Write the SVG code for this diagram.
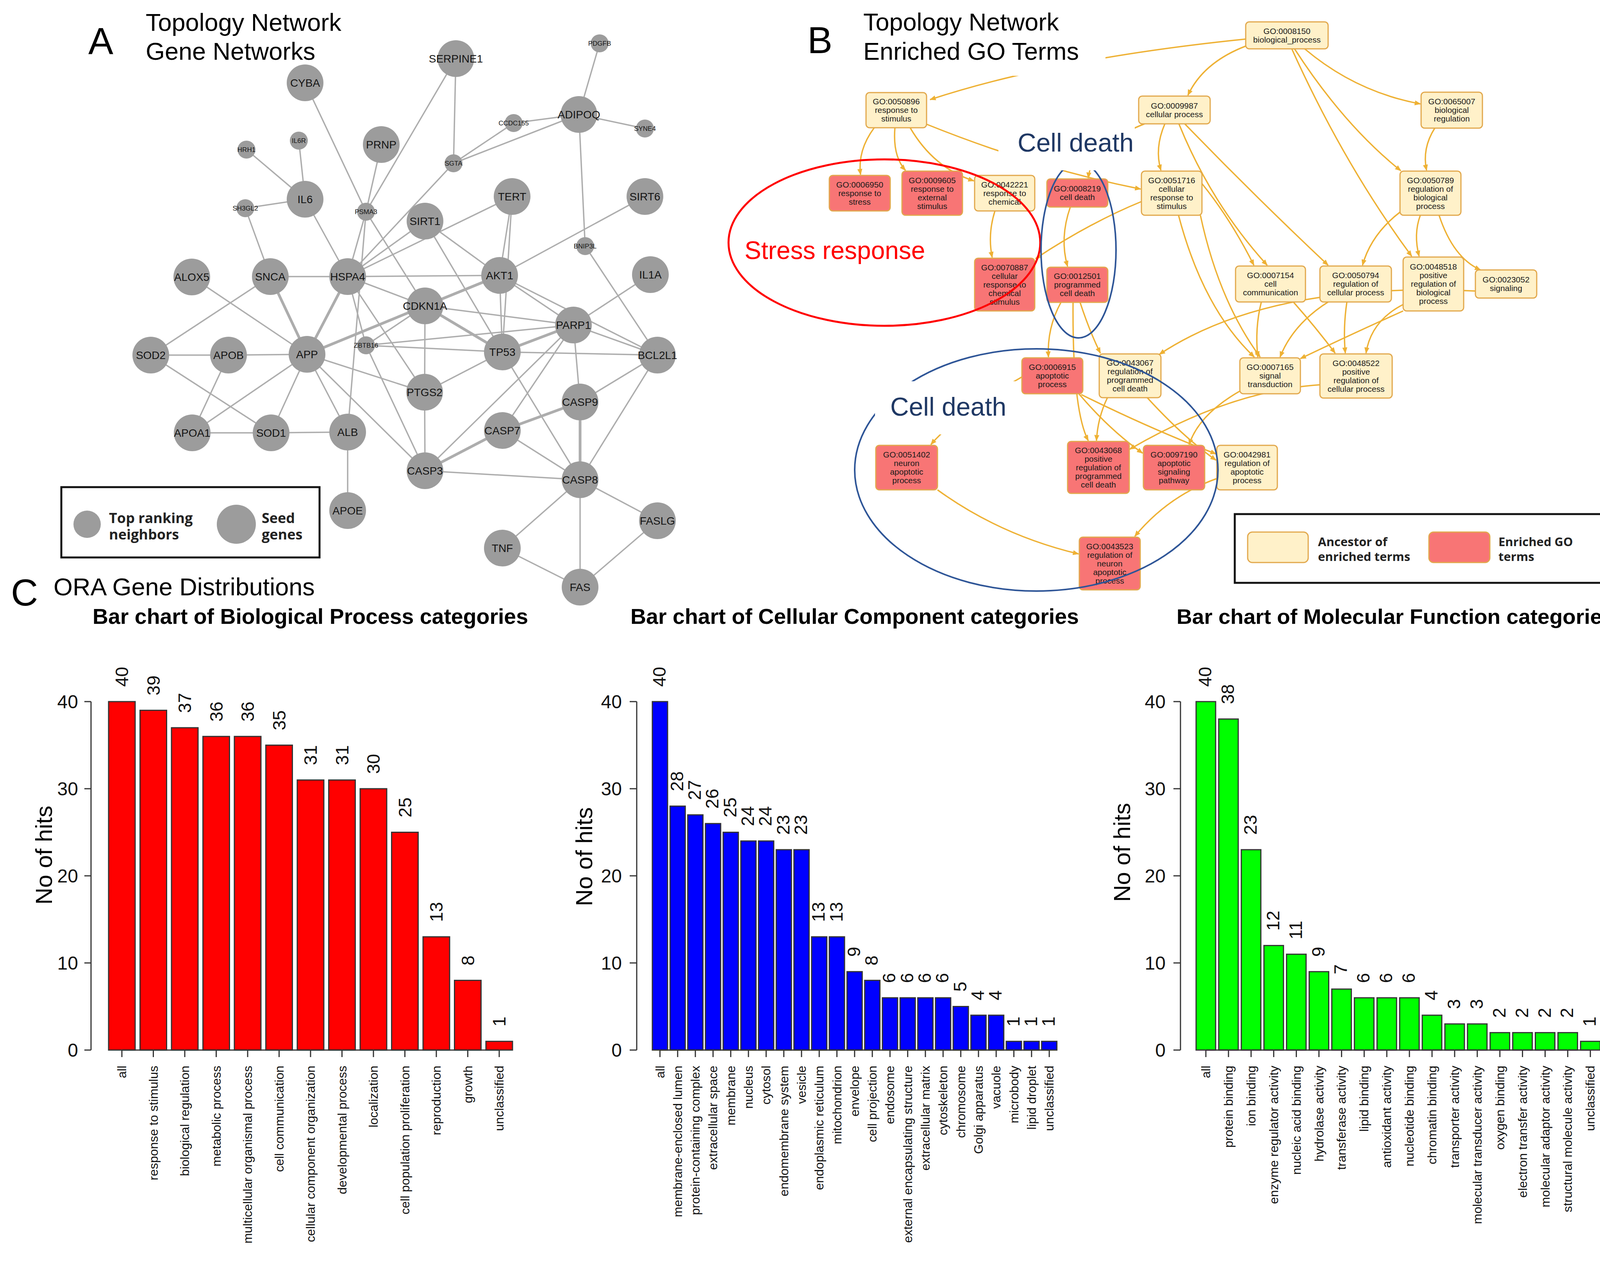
<svg xmlns="http://www.w3.org/2000/svg" width="4160" height="3228" viewBox="0 0 4160 3228">
<style>
.ge{stroke:#adadad;stroke-width:3.5}
.gd{stroke:#adadad;stroke-width:7}
.gn circle{fill:#9c9c9c}
.gl{font-family:"Liberation Sans",Arial,sans-serif;font-size:28px;fill:#141414;text-anchor:middle}
.gs{font-size:17px}
.go rect{stroke:#e2a84c;stroke-width:3}
.anc{fill:#fff1c9}
.enr{fill:#f87575}
.gt{font-family:"Liberation Sans",Arial,sans-serif;font-size:21px;fill:#1a1a1a;text-anchor:middle}
.ce{fill:none;stroke:#eeb134;stroke-width:3.5;marker-end:url(#arr)}
.ttl{font-family:"Liberation Sans",Arial,sans-serif;font-size:63px;fill:#000}
.let{font-family:"Liberation Sans",Arial,sans-serif;font-size:96px;fill:#000}
.leg{font-family:"Open Sans","Liberation Sans",sans-serif;font-weight:bold;fill:#222}
.cd{font-family:"Liberation Sans",Arial,sans-serif;font-size:66px;fill:#1f3864}
.bar rect{stroke:#333;stroke-width:3}
.ax{stroke:#333;stroke-width:3;fill:none}
.tk{font-family:"Liberation Sans",Arial,sans-serif;font-size:48px;text-anchor:end;fill:#111}
.cat{font-family:"Liberation Sans",Arial,sans-serif;font-size:32px;text-anchor:end;fill:#111}
.val{font-family:"Liberation Sans",Arial,sans-serif;font-size:46px;fill:#111}
.yl{font-family:"Liberation Sans",Arial,sans-serif;font-size:60px;text-anchor:middle;fill:#000}
.ct{font-family:"Liberation Sans",Arial,sans-serif;font-weight:bold;font-size:55px;fill:#000}
</style>
<defs>
<marker id="arr" viewBox="0 0 10 8" refX="9" refY="4" markerWidth="16" markerHeight="13" markerUnits="userSpaceOnUse" orient="auto"><path d="M0,0 L10,4 L0,8 z" fill="#eeb134"/></marker>
</defs>
<rect width="4160" height="3228" fill="#fff"/>

<!-- Panel A titles -->
<text class="let" x="226" y="138">A</text>
<text class="ttl" x="373" y="79">Topology Network</text>
<text class="ttl" x="373" y="153">Gene Networks</text>

<!-- Panel A connectors -->
<g id="gene-edges">
<line class="ge" x1="781" y1="212" x2="937" y2="542"/>
<line class="ge" x1="631" y1="383" x2="781" y2="510"/>
<line class="ge" x1="765" y1="360" x2="781" y2="510"/>
<line class="ge" x1="628" y1="533" x2="781" y2="510"/>
<line class="ge" x1="628" y1="533" x2="692" y2="708"/>
<line class="ge" x1="781" y1="510" x2="890" y2="708"/>
<line class="ge" x1="976" y1="370" x2="937" y2="542"/>
<line class="ge" x1="1167" y1="150" x2="937" y2="542"/>
<line class="ge" x1="1167" y1="150" x2="1161" y2="418"/>
<line class="ge" x1="937" y1="542" x2="890" y2="708"/>
<line class="ge" x1="937" y1="542" x2="890" y2="1106"/>
<line class="ge" x1="937" y1="542" x2="1088" y2="783"/>
<line class="ge" x1="1535" y1="111" x2="1482" y2="293"/>
<line class="ge" x1="1315" y1="315" x2="1482" y2="293"/>
<line class="ge" x1="1482" y1="293" x2="1651" y2="329"/>
<line class="ge" x1="1482" y1="293" x2="1161" y2="418"/>
<line class="ge" x1="1315" y1="315" x2="1161" y2="418"/>
<line class="ge" x1="1482" y1="293" x2="1498" y2="630"/>
<line class="ge" x1="1161" y1="418" x2="890" y2="708"/>
<line class="ge" x1="1088" y1="566" x2="890" y2="708"/>
<line class="ge" x1="1311" y1="503" x2="890" y2="708"/>
<line class="ge" x1="1311" y1="503" x2="1279" y2="705"/>
<line class="ge" x1="1311" y1="503" x2="1286" y2="901"/>
<line class="ge" x1="1088" y1="566" x2="1279" y2="705"/>
<line class="ge" x1="1088" y1="566" x2="1286" y2="901"/>
<line class="ge" x1="890" y1="708" x2="1279" y2="705"/>
<line class="ge" x1="1279" y1="705" x2="1651" y2="503"/>
<line class="gd" x1="1279" y1="705" x2="1088" y2="783"/>
<line class="ge" x1="1279" y1="705" x2="1468" y2="832"/>
<line class="ge" x1="1279" y1="705" x2="1683" y2="909"/>
<line class="ge" x1="1279" y1="705" x2="1286" y2="901"/>
<line class="ge" x1="1665" y1="703" x2="1468" y2="832"/>
<line class="ge" x1="1498" y1="630" x2="1683" y2="909"/>
<line class="ge" x1="1088" y1="783" x2="1468" y2="832"/>
<line class="gd" x1="1088" y1="783" x2="1286" y2="901"/>
<line class="ge" x1="890" y1="708" x2="1088" y2="783"/>
<line class="ge" x1="1088" y1="783" x2="1087" y2="1004"/>
<line class="ge" x1="1088" y1="783" x2="937" y2="884"/>
<line class="gd" x1="786" y1="907" x2="1088" y2="783"/>
<line class="ge" x1="937" y1="884" x2="1468" y2="832"/>
<line class="ge" x1="937" y1="884" x2="1286" y2="901"/>
<line class="ge" x1="937" y1="884" x2="1088" y2="1205"/>
<line class="ge" x1="890" y1="708" x2="937" y2="884"/>
<line class="ge" x1="890" y1="708" x2="1087" y2="1004"/>
<line class="gd" x1="890" y1="708" x2="786" y2="907"/>
<line class="gd" x1="692" y1="708" x2="786" y2="907"/>
<line class="ge" x1="692" y1="708" x2="386" y2="909"/>
<line class="ge" x1="692" y1="708" x2="890" y2="708"/>
<line class="ge" x1="491" y1="709" x2="786" y2="907"/>
<line class="ge" x1="386" y1="909" x2="585" y2="909"/>
<line class="ge" x1="585" y1="909" x2="786" y2="907"/>
<line class="ge" x1="386" y1="909" x2="694" y2="1108"/>
<line class="ge" x1="585" y1="909" x2="492" y2="1108"/>
<line class="ge" x1="492" y1="1108" x2="786" y2="907"/>
<line class="ge" x1="492" y1="1108" x2="694" y2="1108"/>
<line class="ge" x1="694" y1="1108" x2="890" y2="1106"/>
<line class="ge" x1="694" y1="1108" x2="786" y2="907"/>
<line class="ge" x1="786" y1="907" x2="890" y2="1106"/>
<line class="ge" x1="890" y1="1106" x2="890" y2="1307"/>
<line class="ge" x1="786" y1="907" x2="1087" y2="1004"/>
<line class="ge" x1="786" y1="907" x2="1088" y2="1205"/>
<line class="ge" x1="1087" y1="1004" x2="1286" y2="901"/>
<line class="ge" x1="1087" y1="1004" x2="1088" y2="1205"/>
<line class="gd" x1="1286" y1="901" x2="1468" y2="832"/>
<line class="ge" x1="1286" y1="901" x2="1683" y2="909"/>
<line class="ge" x1="1286" y1="901" x2="1485" y2="1228"/>
<line class="ge" x1="1468" y1="832" x2="1088" y2="1205"/>
<line class="ge" x1="1468" y1="832" x2="1286" y2="1102"/>
<line class="ge" x1="1468" y1="832" x2="1485" y2="1029"/>
<line class="ge" x1="1468" y1="832" x2="1683" y2="909"/>
<line class="ge" x1="1683" y1="909" x2="1485" y2="1029"/>
<line class="ge" x1="1683" y1="909" x2="1485" y2="1228"/>
<line class="gd" x1="1485" y1="1029" x2="1286" y2="1102"/>
<line class="gd" x1="1485" y1="1029" x2="1485" y2="1228"/>
<line class="gd" x1="1286" y1="1102" x2="1088" y2="1205"/>
<line class="ge" x1="1286" y1="1102" x2="1485" y2="1228"/>
<line class="ge" x1="1088" y1="1205" x2="1485" y2="1228"/>
<line class="ge" x1="1485" y1="1228" x2="1683" y2="1333"/>
<line class="ge" x1="1485" y1="1228" x2="1286" y2="1403"/>
<line class="ge" x1="1485" y1="1228" x2="1485" y2="1503"/>
<line class="ge" x1="1286" y1="1403" x2="1485" y2="1503"/>
<line class="ge" x1="1683" y1="1333" x2="1485" y2="1503"/>
</g>

<!-- Panel A nodes -->
<g class="gn">
<g id="n-CYBA"><circle cx="781" cy="212" r="47"/><text class="gl" x="781" y="222">CYBA</text></g>
<g id="n-HRH1"><circle cx="631" cy="383" r="23"/><text class="gl gs" x="631" y="389">HRH1</text></g>
<g id="n-IL6R"><circle cx="765" cy="360" r="23"/><text class="gl gs" x="765" y="366">IL6R</text></g>
<g id="n-PRNP"><circle cx="976" cy="370" r="47"/><text class="gl" x="976" y="380">PRNP</text></g>
<g id="n-IL6"><circle cx="781" cy="510" r="47"/><text class="gl" x="781" y="520">IL6</text></g>
<g id="n-SH3GL2"><circle cx="628" cy="533" r="23"/><text class="gl gs" x="628" y="539">SH3GL2</text></g>
<g id="n-PSMA3"><circle cx="937" cy="542" r="23"/><text class="gl gs" x="937" y="548">PSMA3</text></g>
<g id="n-SERPINE1"><circle cx="1167" cy="150" r="47"/><text class="gl" x="1167" y="160">SERPINE1</text></g>
<g id="n-PDGFB"><circle cx="1535" cy="111" r="23"/><text class="gl gs" x="1535" y="117">PDGFB</text></g>
<g id="n-ADIPOQ"><circle cx="1482" cy="293" r="47"/><text class="gl" x="1482" y="303">ADIPOQ</text></g>
<g id="n-CCDC155"><circle cx="1315" cy="315" r="23"/><text class="gl gs" x="1315" y="321">CCDC155</text></g>
<g id="n-SYNE4"><circle cx="1651" cy="329" r="23"/><text class="gl gs" x="1651" y="335">SYNE4</text></g>
<g id="n-SGTA"><circle cx="1161" cy="418" r="23"/><text class="gl gs" x="1161" y="424">SGTA</text></g>
<g id="n-TERT"><circle cx="1311" cy="503" r="47"/><text class="gl" x="1311" y="513">TERT</text></g>
<g id="n-SIRT6"><circle cx="1651" cy="503" r="47"/><text class="gl" x="1651" y="513">SIRT6</text></g>
<g id="n-SIRT1"><circle cx="1088" cy="566" r="47"/><text class="gl" x="1088" y="576">SIRT1</text></g>
<g id="n-BNIP3L"><circle cx="1498" cy="630" r="23"/><text class="gl gs" x="1498" y="636">BNIP3L</text></g>
<g id="n-ALOX5"><circle cx="491" cy="709" r="47"/><text class="gl" x="491" y="719">ALOX5</text></g>
<g id="n-SNCA"><circle cx="692" cy="708" r="47"/><text class="gl" x="692" y="718">SNCA</text></g>
<g id="n-HSPA4"><circle cx="890" cy="708" r="47"/><text class="gl" x="890" y="718">HSPA4</text></g>
<g id="n-AKT1"><circle cx="1279" cy="705" r="47"/><text class="gl" x="1279" y="715">AKT1</text></g>
<g id="n-IL1A"><circle cx="1665" cy="703" r="47"/><text class="gl" x="1665" y="713">IL1A</text></g>
<g id="n-CDKN1A"><circle cx="1088" cy="783" r="47"/><text class="gl" x="1088" y="793">CDKN1A</text></g>
<g id="n-ZBTB16"><circle cx="937" cy="884" r="23"/><text class="gl gs" x="937" y="890">ZBTB16</text></g>
<g id="n-SOD2"><circle cx="386" cy="909" r="47"/><text class="gl" x="386" y="919">SOD2</text></g>
<g id="n-APOB"><circle cx="585" cy="909" r="47"/><text class="gl" x="585" y="919">APOB</text></g>
<g id="n-APP"><circle cx="786" cy="907" r="47"/><text class="gl" x="786" y="917">APP</text></g>
<g id="n-PARP1"><circle cx="1468" cy="832" r="47"/><text class="gl" x="1468" y="842">PARP1</text></g>
<g id="n-TP53"><circle cx="1286" cy="901" r="47"/><text class="gl" x="1286" y="911">TP53</text></g>
<g id="n-BCL2L1"><circle cx="1683" cy="909" r="47"/><text class="gl" x="1683" y="919">BCL2L1</text></g>
<g id="n-PTGS2"><circle cx="1087" cy="1004" r="47"/><text class="gl" x="1087" y="1014">PTGS2</text></g>
<g id="n-CASP9"><circle cx="1485" cy="1029" r="47"/><text class="gl" x="1485" y="1039">CASP9</text></g>
<g id="n-CASP7"><circle cx="1286" cy="1102" r="47"/><text class="gl" x="1286" y="1112">CASP7</text></g>
<g id="n-ALB"><circle cx="890" cy="1106" r="47"/><text class="gl" x="890" y="1116">ALB</text></g>
<g id="n-APOA1"><circle cx="492" cy="1108" r="47"/><text class="gl" x="492" y="1118">APOA1</text></g>
<g id="n-SOD1"><circle cx="694" cy="1108" r="47"/><text class="gl" x="694" y="1118">SOD1</text></g>
<g id="n-CASP3"><circle cx="1088" cy="1205" r="47"/><text class="gl" x="1088" y="1215">CASP3</text></g>
<g id="n-CASP8"><circle cx="1485" cy="1228" r="47"/><text class="gl" x="1485" y="1238">CASP8</text></g>
<g id="n-APOE"><circle cx="890" cy="1307" r="47"/><text class="gl" x="890" y="1317">APOE</text></g>
<g id="n-FASLG"><circle cx="1683" cy="1333" r="47"/><text class="gl" x="1683" y="1343">FASLG</text></g>
<g id="n-TNF"><circle cx="1286" cy="1403" r="47"/><text class="gl" x="1286" y="1413">TNF</text></g>
<g id="n-FAS"><circle cx="1485" cy="1503" r="47"/><text class="gl" x="1485" y="1513">FAS</text></g>
</g>

<!-- Panel A legend -->
<g id="legend-A">
<rect x="157" y="1247" width="661" height="180" fill="#fff" stroke="#111" stroke-width="5"/>
<circle cx="223" cy="1342" r="35" fill="#9c9c9c"/>
<text class="leg" x="279" y="1339" font-size="36">Top ranking</text>
<text class="leg" x="279" y="1381" font-size="36">neighbors</text>
<circle cx="605" cy="1342" r="50" fill="#9c9c9c"/>
<text class="leg" x="670" y="1339" font-size="36">Seed</text>
<text class="leg" x="670" y="1381" font-size="36">genes</text>
</g>

<!-- Panel B connectors -->
<g id="go-edges">
<path class="ce" d="M3189,100 Q2700,150 2381,255"/>
<path class="ce" d="M2238,327 Q2195,385 2203,447"/>
<path class="ce" d="M2291,327 Q2285,400 2318,436"/>
<path class="ce" d="M2330,327 Q2390,430 2493,463"/>
<path class="ce" d="M2372,318 Q2650,430 2920,484"/>
<path class="ce" d="M2930,317 Q2795,370 2786,456"/>
<path class="ce" d="M2547,540 Q2528,600 2540,659"/>
<path class="ce" d="M2740,530 Q2712,610 2733,682"/>
<path class="ce" d="M2982,317 Q2955,380 2972,436"/>
<path class="ce" d="M3189,118 Q3080,160 3041,244"/>
<path class="ce" d="M2922,516 Q2790,570 2651,662"/>
<path class="ce" d="M3340,125 Q3470,235 3636,266"/>
<path class="ce" d="M3314,125 Q3440,320 3586,437"/>
<path class="ce" d="M3307,125 Q3440,420 3614,656"/>
<path class="ce" d="M3673,328 Q3640,380 3652,436"/>
<path class="ce" d="M3584,543 Q3510,600 3488,679"/>
<path class="ce" d="M3636,551 Q3618,600 3633,656"/>
<path class="ce" d="M3684,551 Q3720,660 3790,691"/>
<path class="ce" d="M3018,317 Q3100,520 3244,679"/>
<path class="ce" d="M3033,317 Q3210,500 3400,679"/>
<path class="ce" d="M3077,470 Q3150,560 3210,679"/>
<path class="ce" d="M3017,551 Q3080,790 3211,914"/>
<path class="ce" d="M3073,551 Q3120,770 3226,914"/>
<path class="ce" d="M3229,773 Q3212,840 3220,914"/>
<path class="ce" d="M3400,773 Q3310,830 3277,914"/>
<path class="ce" d="M3592,796 Q3450,860 3329,918"/>
<path class="ce" d="M3595,778 Q3510,820 3497,904"/>
<path class="ce" d="M3448,773 Q3438,840 3444,904"/>
<path class="ce" d="M3311,773 Q3370,840 3418,904"/>
<path class="ce" d="M3777,745 Q3250,720 2968,907"/>
<path class="ce" d="M3379,985 Q3150,1000 2892,1150"/>
<path class="ce" d="M3176,1000 Q3070,1060 3044,1138"/>
<path class="ce" d="M2716,774 Q2680,840 2684,914"/>
<path class="ce" d="M2747,774 Q2745,1050 2786,1128"/>
<path class="ce" d="M2765,774 Q2790,850 2817,904"/>
<path class="ce" d="M2762,1008 Q2840,1100 2925,1160"/>
<path class="ce" d="M2768,1010 Q2950,1100 3113,1162"/>
<path class="ce" d="M2835,1018 Q2810,1070 2807,1128"/>
<path class="ce" d="M2937,1018 Q3030,1120 3113,1178"/>
<path class="ce" d="M3115,1225 Q2990,1270 2905,1373"/>
<path class="ce" d="M2400,1254 Q2560,1370 2761,1418"/>
<path class="ce" d="M2616,965 Q2450,1060 2383,1138"/>
</g>

<!-- Panel B nodes -->
<g class="go">
<g id="GO0008150"><rect class="anc" x="3189" y="56" width="211" height="69" rx="9"/><text class="gt" x="3294.5" y="87">GO:0008150</text><text class="gt" x="3294.5" y="109">biological_process</text></g>
<g id="GO0050896"><rect class="anc" x="2217" y="237" width="155" height="90" rx="9"/><text class="gt" x="2294.5" y="267">GO:0050896</text><text class="gt" x="2294.5" y="289">response to</text><text class="gt" x="2294.5" y="311">stimulus</text></g>
<g id="GO0009987"><rect class="anc" x="2915" y="246" width="183" height="71" rx="9"/><text class="gt" x="3006.5" y="278">GO:0009987</text><text class="gt" x="3006.5" y="300">cellular process</text></g>
<g id="GO0065007"><rect class="anc" x="3638" y="236" width="157" height="92" rx="9"/><text class="gt" x="3716.5" y="267">GO:0065007</text><text class="gt" x="3716.5" y="289">biological</text><text class="gt" x="3716.5" y="311">regulation</text></g>
<g id="GO0006950"><rect class="enr" x="2123" y="449" width="156" height="91" rx="9"/><text class="gt" x="2201" y="480">GO:0006950</text><text class="gt" x="2201" y="502">response to</text><text class="gt" x="2201" y="524">stress</text></g>
<g id="GO0009605"><rect class="enr" x="2309" y="438" width="155" height="113" rx="9"/><text class="gt" x="2386.5" y="469">GO:0009605</text><text class="gt" x="2386.5" y="491">response to</text><text class="gt" x="2386.5" y="513">external</text><text class="gt" x="2386.5" y="535">stimulus</text></g>
<g id="GO0042221"><rect class="anc" x="2495" y="449" width="154" height="91" rx="9"/><text class="gt" x="2572" y="480">GO:0042221</text><text class="gt" x="2572" y="502">response to</text><text class="gt" x="2572" y="524">chemical</text></g>
<g id="GO0008219"><rect class="enr" x="2680" y="458" width="156" height="72" rx="9"/><text class="gt" x="2758" y="490">GO:0008219</text><text class="gt" x="2758" y="512">cell death</text></g>
<g id="GO0051716"><rect class="anc" x="2922" y="438" width="155" height="113" rx="9"/><text class="gt" x="2999.5" y="469">GO:0051716</text><text class="gt" x="2999.5" y="491">cellular</text><text class="gt" x="2999.5" y="513">response to</text><text class="gt" x="2999.5" y="535">stimulus</text></g>
<g id="GO0050789"><rect class="anc" x="3584" y="438" width="156" height="113" rx="9"/><text class="gt" x="3662" y="469">GO:0050789</text><text class="gt" x="3662" y="491">regulation of</text><text class="gt" x="3662" y="513">biological</text><text class="gt" x="3662" y="535">process</text></g>
<g id="GO0070887"><rect class="enr" x="2495" y="661" width="154" height="135" rx="9"/><text class="gt" x="2572" y="692">GO:0070887</text><text class="gt" x="2572" y="714">cellular</text><text class="gt" x="2572" y="736">response to</text><text class="gt" x="2572" y="758">chemical</text><text class="gt" x="2572" y="780">stimulus</text></g>
<g id="GO0012501"><rect class="enr" x="2680" y="684" width="156" height="90" rx="9"/><text class="gt" x="2758" y="714">GO:0012501</text><text class="gt" x="2758" y="736">programmed</text><text class="gt" x="2758" y="758">cell death</text></g>
<g id="GO0007154"><rect class="anc" x="3163" y="681" width="179" height="92" rx="9"/><text class="gt" x="3252.5" y="712">GO:0007154</text><text class="gt" x="3252.5" y="734">cell</text><text class="gt" x="3252.5" y="756">communication</text></g>
<g id="GO0050794"><rect class="anc" x="3379" y="681" width="183" height="92" rx="9"/><text class="gt" x="3470.5" y="712">GO:0050794</text><text class="gt" x="3470.5" y="734">regulation of</text><text class="gt" x="3470.5" y="756">cellular process</text></g>
<g id="GO0048518"><rect class="anc" x="3592" y="658" width="155" height="138" rx="9"/><text class="gt" x="3669.5" y="690">GO:0048518</text><text class="gt" x="3669.5" y="712">positive</text><text class="gt" x="3669.5" y="734">regulation of</text><text class="gt" x="3669.5" y="756">biological</text><text class="gt" x="3669.5" y="778">process</text></g>
<g id="GO0023052"><rect class="anc" x="3777" y="691" width="157" height="72" rx="9"/><text class="gt" x="3855.5" y="723">GO:0023052</text><text class="gt" x="3855.5" y="745">signaling</text></g>
<g id="GO0006915"><rect class="enr" x="2616" y="916" width="156" height="92" rx="9"/><text class="gt" x="2694" y="947">GO:0006915</text><text class="gt" x="2694" y="969">apoptotic</text><text class="gt" x="2694" y="991">process</text></g>
<g id="GO0043067"><rect class="anc" x="2814" y="906" width="158" height="112" rx="9"/><text class="gt" x="2893" y="936">GO:0043067</text><text class="gt" x="2893" y="958">regulation of</text><text class="gt" x="2893" y="980">programmed</text><text class="gt" x="2893" y="1002">cell death</text></g>
<g id="GO0007165"><rect class="anc" x="3174" y="916" width="155" height="92" rx="9"/><text class="gt" x="3251.5" y="947">GO:0007165</text><text class="gt" x="3251.5" y="969">signal</text><text class="gt" x="3251.5" y="991">transduction</text></g>
<g id="GO0048522"><rect class="anc" x="3379" y="906" width="185" height="113" rx="9"/><text class="gt" x="3471.5" y="937">GO:0048522</text><text class="gt" x="3471.5" y="959">positive</text><text class="gt" x="3471.5" y="981">regulation of</text><text class="gt" x="3471.5" y="1003">cellular process</text></g>
<g id="GO0051402"><rect class="enr" x="2242" y="1140" width="158" height="114" rx="9"/><text class="gt" x="2321" y="1171">GO:0051402</text><text class="gt" x="2321" y="1193">neuron</text><text class="gt" x="2321" y="1215">apoptotic</text><text class="gt" x="2321" y="1237">process</text></g>
<g id="GO0043068"><rect class="enr" x="2733" y="1130" width="158" height="133" rx="9"/><text class="gt" x="2812" y="1160">GO:0043068</text><text class="gt" x="2812" y="1182">positive</text><text class="gt" x="2812" y="1204">regulation of</text><text class="gt" x="2812" y="1226">programmed</text><text class="gt" x="2812" y="1248">cell death</text></g>
<g id="GO0097190"><rect class="enr" x="2927" y="1140" width="157" height="114" rx="9"/><text class="gt" x="3005.5" y="1171">GO:0097190</text><text class="gt" x="3005.5" y="1193">apoptotic</text><text class="gt" x="3005.5" y="1215">signaling</text><text class="gt" x="3005.5" y="1237">pathway</text></g>
<g id="GO0042981"><rect class="anc" x="3115" y="1140" width="155" height="114" rx="9"/><text class="gt" x="3192.5" y="1171">GO:0042981</text><text class="gt" x="3192.5" y="1193">regulation of</text><text class="gt" x="3192.5" y="1215">apoptotic</text><text class="gt" x="3192.5" y="1237">process</text></g>
<g id="GO0043523"><rect class="enr" x="2763" y="1375" width="156" height="135" rx="9"/><text class="gt" x="2841" y="1406">GO:0043523</text><text class="gt" x="2841" y="1428">regulation of</text><text class="gt" x="2841" y="1450">neuron</text><text class="gt" x="2841" y="1472">apoptotic</text><text class="gt" x="2841" y="1494">process</text></g>
</g>

<!-- Panel B annotation ellipses -->
<g id="annotations" fill="none">
<ellipse cx="2264" cy="621" rx="399" ry="213" stroke="#ff0000" stroke-width="5"/>
<ellipse cx="2761" cy="640" rx="96" ry="225" stroke="#2e5597" stroke-width="4"/>
<ellipse cx="2653" cy="1203" rx="465" ry="310" stroke="#2e5597" stroke-width="4"/>
</g>

<!-- Panel B labels -->
<g id="title-B">
<rect x="2190" y="15" width="640" height="179" fill="#fff"/>
<text class="let" x="2067" y="136">B</text>
<text class="ttl" x="2210" y="78">Topology Network</text>
<text class="ttl" x="2210" y="153">Enriched GO Terms</text>
</g>
<g id="label-cell-death-1"><rect x="2556" y="320" width="349" height="116" fill="#fff"/><text class="cd" x="2605" y="388">Cell death</text></g>
<g id="label-cell-death-2"><rect x="2240" y="976" width="370" height="136" fill="#fff"/><text class="cd" x="2279" y="1064">Cell death</text></g>
<g id="label-stress"><text x="1906" y="663" font-family="Liberation Sans, Arial, sans-serif" font-size="64" fill="#ff0000">Stress response</text></g>

<!-- Panel B legend -->
<g id="legend-B">
<rect x="3161" y="1316" width="939" height="176" fill="#fff" stroke="#111" stroke-width="5"/>
<rect x="3194" y="1362" width="155" height="78" rx="12" fill="#fff1c9" stroke="#e2a84c" stroke-width="3"/>
<text class="leg" x="3374" y="1398" font-size="31">Ancestor of</text>
<text class="leg" x="3374" y="1436" font-size="31">enriched terms</text>
<rect x="3658" y="1362" width="156" height="78" rx="12" fill="#f87575" stroke="#e2a84c" stroke-width="3"/>
<text class="leg" x="3836" y="1398" font-size="31">Enriched GO</text>
<text class="leg" x="3836" y="1436" font-size="31">terms</text>
</g>

<!-- Panel C -->
<text class="let" x="28" y="1550">C</text>
<text class="ttl" x="137" y="1524">ORA Gene Distributions</text>
<text class="ct" x="237" y="1597" textLength="1115" lengthAdjust="spacingAndGlyphs">Bar chart of Biological Process categories</text>
<text class="ct" x="1614" y="1597" textLength="1148" lengthAdjust="spacingAndGlyphs">Bar chart of Cellular Component categories</text>
<text class="ct" transform="translate(3012,1597) scale(1,1.2)" x="0" y="0" style="font-size:45px" textLength="1120" lengthAdjust="spacingAndGlyphs">Bar chart of Molecular Function categories</text>

<!-- Chart 1 -->
<g id="chart-bp" transform="translate(0,2688)">
<path class="ax" d="M233,-892 V0 M216,0 H233 M216,-223 H233 M216,-446 H233 M216,-669 H233 M216,-892 H233"/>
<text class="tk" x="200" y="17">0</text><text class="tk" x="200" y="-206">10</text><text class="tk" x="200" y="-429">20</text><text class="tk" x="200" y="-652">30</text><text class="tk" x="200" y="-875">40</text>
<text class="yl" transform="translate(133,-499) rotate(-90)">No of hits</text>
<g class="bar" fill="#ff0000">
<rect x="278" y="-892" width="68" height="892"/>
<rect x="358.5" y="-869.7" width="68" height="869.7"/>
<rect x="439" y="-825.1" width="68" height="825.1"/>
<rect x="519.5" y="-802.8" width="68" height="802.8"/>
<rect x="600" y="-802.8" width="68" height="802.8"/>
<rect x="680.5" y="-780.5" width="68" height="780.5"/>
<rect x="761" y="-691.3" width="68" height="691.3"/>
<rect x="841.5" y="-691.3" width="68" height="691.3"/>
<rect x="922" y="-669" width="68" height="669"/>
<rect x="1002.5" y="-557.5" width="68" height="557.5"/>
<rect x="1083" y="-289.9" width="68" height="289.9"/>
<rect x="1163.5" y="-178.4" width="68" height="178.4"/>
<rect x="1244" y="-22.3" width="68" height="22.3"/>
</g>
<path class="ax" d="M312,0 H1278 M312,0 V18 M392.5,0 V18 M473,0 V18 M553.5,0 V18 M634,0 V18 M714.5,0 V18 M795,0 V18 M875.5,0 V18 M956,0 V18 M1036.5,0 V18 M1117,0 V18 M1197.5,0 V18 M1278,0 V18"/>
<text class="val" transform="translate(328,-930) rotate(-90)">40</text>
<text class="val" transform="translate(408.5,-907.7) rotate(-90)">39</text>
<text class="val" transform="translate(489,-863.1) rotate(-90)">37</text>
<text class="val" transform="translate(569.5,-840.8) rotate(-90)">36</text>
<text class="val" transform="translate(650,-840.8) rotate(-90)">36</text>
<text class="val" transform="translate(730.5,-818.5) rotate(-90)">35</text>
<text class="val" transform="translate(811,-729.3) rotate(-90)">31</text>
<text class="val" transform="translate(891.5,-729.3) rotate(-90)">31</text>
<text class="val" transform="translate(972,-707) rotate(-90)">30</text>
<text class="val" transform="translate(1052.5,-595.5) rotate(-90)">25</text>
<text class="val" transform="translate(1133,-327.9) rotate(-90)">13</text>
<text class="val" transform="translate(1213.5,-216.4) rotate(-90)">8</text>
<text class="val" transform="translate(1294,-60.3) rotate(-90)">1</text>
<text class="cat" transform="translate(323,40) rotate(-90)">all</text>
<text class="cat" transform="translate(403.5,40) rotate(-90)">response to stimulus</text>
<text class="cat" transform="translate(484,40) rotate(-90)">biological regulation</text>
<text class="cat" transform="translate(564.5,40) rotate(-90)">metabolic process</text>
<text class="cat" transform="translate(645,40) rotate(-90)">multicellular organismal process</text>
<text class="cat" transform="translate(725.5,40) rotate(-90)">cell communication</text>
<text class="cat" transform="translate(806,40) rotate(-90)">cellular component organization</text>
<text class="cat" transform="translate(886.5,40) rotate(-90)">developmental process</text>
<text class="cat" transform="translate(967,40) rotate(-90)">localization</text>
<text class="cat" transform="translate(1047.5,40) rotate(-90)">cell population proliferation</text>
<text class="cat" transform="translate(1128,40) rotate(-90)">reproduction</text>
<text class="cat" transform="translate(1208.5,40) rotate(-90)">growth</text>
<text class="cat" transform="translate(1289,40) rotate(-90)">unclassified</text>
</g>

<!-- Chart 2 -->
<g id="chart-cc" transform="translate(0,2688)">
<path class="ax" d="M1630,-892 V0 M1612,0 H1630 M1612,-223 H1630 M1612,-446 H1630 M1612,-669 H1630 M1612,-892 H1630"/>
<text class="tk" x="1592" y="17">0</text><text class="tk" x="1592" y="-206">10</text><text class="tk" x="1592" y="-429">20</text><text class="tk" x="1592" y="-652">30</text><text class="tk" x="1592" y="-875">40</text>
<text class="yl" transform="translate(1516,-495) rotate(-90)">No of hits</text>
<g class="bar" fill="#0000ff">
<rect x="1670" y="-892" width="39" height="892"/>
<rect x="1715.3" y="-624.4" width="39" height="624.4"/>
<rect x="1760.6" y="-602.1" width="39" height="602.1"/>
<rect x="1805.9" y="-579.8" width="39" height="579.8"/>
<rect x="1851.2" y="-557.5" width="39" height="557.5"/>
<rect x="1896.5" y="-535.2" width="39" height="535.2"/>
<rect x="1941.8" y="-535.2" width="39" height="535.2"/>
<rect x="1987.1" y="-512.9" width="39" height="512.9"/>
<rect x="2032.4" y="-512.9" width="39" height="512.9"/>
<rect x="2077.7" y="-289.9" width="39" height="289.9"/>
<rect x="2123" y="-289.9" width="39" height="289.9"/>
<rect x="2168.3" y="-200.7" width="39" height="200.7"/>
<rect x="2213.6" y="-178.4" width="39" height="178.4"/>
<rect x="2258.9" y="-133.8" width="39" height="133.8"/>
<rect x="2304.2" y="-133.8" width="39" height="133.8"/>
<rect x="2349.5" y="-133.8" width="39" height="133.8"/>
<rect x="2394.8" y="-133.8" width="39" height="133.8"/>
<rect x="2440.1" y="-111.5" width="39" height="111.5"/>
<rect x="2485.4" y="-89.2" width="39" height="89.2"/>
<rect x="2530.7" y="-89.2" width="39" height="89.2"/>
<rect x="2576" y="-22.3" width="39" height="22.3"/>
<rect x="2621.3" y="-22.3" width="39" height="22.3"/>
<rect x="2666.6" y="-22.3" width="39" height="22.3"/>
</g>
<path class="ax" d="M1689.5,0 H2686.1 M1689.5,0 V18 M1734.8,0 V18 M1780.1,0 V18 M1825.4,0 V18 M1870.7,0 V18 M1916,0 V18 M1961.3,0 V18 M2006.6,0 V18 M2051.9,0 V18 M2097.2,0 V18 M2142.5,0 V18 M2187.8,0 V18 M2233.1,0 V18 M2278.4,0 V18 M2323.7,0 V18 M2369,0 V18 M2414.3,0 V18 M2459.6,0 V18 M2504.9,0 V18 M2550.2,0 V18 M2595.5,0 V18 M2640.8,0 V18 M2686.1,0 V18"/>
<text class="val" transform="translate(1703.5,-930) rotate(-90)">40</text>
<text class="val" transform="translate(1748.8,-662.4) rotate(-90)">28</text>
<text class="val" transform="translate(1794.1,-640.1) rotate(-90)">27</text>
<text class="val" transform="translate(1839.4,-617.8) rotate(-90)">26</text>
<text class="val" transform="translate(1884.7,-595.5) rotate(-90)">25</text>
<text class="val" transform="translate(1930,-573.2) rotate(-90)">24</text>
<text class="val" transform="translate(1975.3,-573.2) rotate(-90)">24</text>
<text class="val" transform="translate(2020.6,-550.9) rotate(-90)">23</text>
<text class="val" transform="translate(2065.9,-550.9) rotate(-90)">23</text>
<text class="val" transform="translate(2111.2,-327.9) rotate(-90)">13</text>
<text class="val" transform="translate(2156.5,-327.9) rotate(-90)">13</text>
<text class="val" transform="translate(2201.8,-238.7) rotate(-90)">9</text>
<text class="val" transform="translate(2247.1,-216.4) rotate(-90)">8</text>
<text class="val" transform="translate(2292.4,-171.8) rotate(-90)">6</text>
<text class="val" transform="translate(2337.7,-171.8) rotate(-90)">6</text>
<text class="val" transform="translate(2383,-171.8) rotate(-90)">6</text>
<text class="val" transform="translate(2428.3,-171.8) rotate(-90)">6</text>
<text class="val" transform="translate(2473.6,-149.5) rotate(-90)">5</text>
<text class="val" transform="translate(2518.9,-127.2) rotate(-90)">4</text>
<text class="val" transform="translate(2564.2,-127.2) rotate(-90)">4</text>
<text class="val" transform="translate(2609.5,-60.3) rotate(-90)">1</text>
<text class="val" transform="translate(2654.8,-60.3) rotate(-90)">1</text>
<text class="val" transform="translate(2700.1,-60.3) rotate(-90)">1</text>
<text class="cat" transform="translate(1700.5,40) rotate(-90)">all</text>
<text class="cat" transform="translate(1745.8,40) rotate(-90)">membrane-enclosed lumen</text>
<text class="cat" transform="translate(1791.1,40) rotate(-90)">protein-containing complex</text>
<text class="cat" transform="translate(1836.4,40) rotate(-90)">extracellular space</text>
<text class="cat" transform="translate(1881.7,40) rotate(-90)">membrane</text>
<text class="cat" transform="translate(1927,40) rotate(-90)">nucleus</text>
<text class="cat" transform="translate(1972.3,40) rotate(-90)">cytosol</text>
<text class="cat" transform="translate(2017.6,40) rotate(-90)">endomembrane system</text>
<text class="cat" transform="translate(2062.9,40) rotate(-90)">vesicle</text>
<text class="cat" transform="translate(2108.2,40) rotate(-90)">endoplasmic reticulum</text>
<text class="cat" transform="translate(2153.5,40) rotate(-90)">mitochondrion</text>
<text class="cat" transform="translate(2198.8,40) rotate(-90)">envelope</text>
<text class="cat" transform="translate(2244.1,40) rotate(-90)">cell projection</text>
<text class="cat" transform="translate(2289.4,40) rotate(-90)">endosome</text>
<text class="cat" transform="translate(2334.7,40) rotate(-90)">external encapsulating structure</text>
<text class="cat" transform="translate(2380,40) rotate(-90)">extracellular matrix</text>
<text class="cat" transform="translate(2425.3,40) rotate(-90)">cytoskeleton</text>
<text class="cat" transform="translate(2470.6,40) rotate(-90)">chromosome</text>
<text class="cat" transform="translate(2515.9,40) rotate(-90)">Golgi apparatus</text>
<text class="cat" transform="translate(2561.2,40) rotate(-90)">vacuole</text>
<text class="cat" transform="translate(2606.5,40) rotate(-90)">microbody</text>
<text class="cat" transform="translate(2651.8,40) rotate(-90)">lipid droplet</text>
<text class="cat" transform="translate(2697.1,40) rotate(-90)">unclassified</text>
</g>

<!-- Chart 3 -->
<g id="chart-mf" transform="translate(0,2688)">
<path class="ax" d="M3022,-892 V0 M3004,0 H3022 M3004,-223 H3022 M3004,-446 H3022 M3004,-669 H3022 M3004,-892 H3022"/>
<text class="tk" x="2984" y="17">0</text><text class="tk" x="2984" y="-206">10</text><text class="tk" x="2984" y="-429">20</text><text class="tk" x="2984" y="-652">30</text><text class="tk" x="2984" y="-875">40</text>
<text class="yl" transform="translate(2893,-506) rotate(-90)">No of hits</text>
<g class="bar" fill="#00ff00">
<rect x="3062" y="-892" width="50" height="892"/>
<rect x="3119.9" y="-847.4" width="50" height="847.4"/>
<rect x="3177.8" y="-512.9" width="50" height="512.9"/>
<rect x="3235.7" y="-267.6" width="50" height="267.6"/>
<rect x="3293.6" y="-245.3" width="50" height="245.3"/>
<rect x="3351.5" y="-200.7" width="50" height="200.7"/>
<rect x="3409.4" y="-156.1" width="50" height="156.1"/>
<rect x="3467.3" y="-133.8" width="50" height="133.8"/>
<rect x="3525.2" y="-133.8" width="50" height="133.8"/>
<rect x="3583.1" y="-133.8" width="50" height="133.8"/>
<rect x="3641" y="-89.2" width="50" height="89.2"/>
<rect x="3698.9" y="-66.9" width="50" height="66.9"/>
<rect x="3756.8" y="-66.9" width="50" height="66.9"/>
<rect x="3814.7" y="-44.6" width="50" height="44.6"/>
<rect x="3872.6" y="-44.6" width="50" height="44.6"/>
<rect x="3930.5" y="-44.6" width="50" height="44.6"/>
<rect x="3988.4" y="-44.6" width="50" height="44.6"/>
<rect x="4046.3" y="-22.3" width="50" height="22.3"/>
</g>
<path class="ax" d="M3087,0 H4071.3 M3087,0 V18 M3144.9,0 V18 M3202.8,0 V18 M3260.7,0 V18 M3318.6,0 V18 M3376.5,0 V18 M3434.4,0 V18 M3492.3,0 V18 M3550.2,0 V18 M3608.1,0 V18 M3666,0 V18 M3723.9,0 V18 M3781.8,0 V18 M3839.7,0 V18 M3897.6,0 V18 M3955.5,0 V18 M4013.4,0 V18 M4071.3,0 V18"/>
<text class="val" transform="translate(3101,-930) rotate(-90)">40</text>
<text class="val" transform="translate(3158.9,-885.4) rotate(-90)">38</text>
<text class="val" transform="translate(3216.8,-550.9) rotate(-90)">23</text>
<text class="val" transform="translate(3274.7,-305.6) rotate(-90)">12</text>
<text class="val" transform="translate(3332.6,-283.3) rotate(-90)">11</text>
<text class="val" transform="translate(3390.5,-238.7) rotate(-90)">9</text>
<text class="val" transform="translate(3448.4,-194.1) rotate(-90)">7</text>
<text class="val" transform="translate(3506.3,-171.8) rotate(-90)">6</text>
<text class="val" transform="translate(3564.2,-171.8) rotate(-90)">6</text>
<text class="val" transform="translate(3622.1,-171.8) rotate(-90)">6</text>
<text class="val" transform="translate(3680,-127.2) rotate(-90)">4</text>
<text class="val" transform="translate(3737.9,-104.9) rotate(-90)">3</text>
<text class="val" transform="translate(3795.8,-104.9) rotate(-90)">3</text>
<text class="val" transform="translate(3853.7,-82.6) rotate(-90)">2</text>
<text class="val" transform="translate(3911.6,-82.6) rotate(-90)">2</text>
<text class="val" transform="translate(3969.5,-82.6) rotate(-90)">2</text>
<text class="val" transform="translate(4027.4,-82.6) rotate(-90)">2</text>
<text class="val" transform="translate(4085.3,-60.3) rotate(-90)">1</text>
<text class="cat" transform="translate(3098,40) rotate(-90)">all</text>
<text class="cat" transform="translate(3155.9,40) rotate(-90)">protein binding</text>
<text class="cat" transform="translate(3213.8,40) rotate(-90)">ion binding</text>
<text class="cat" transform="translate(3271.7,40) rotate(-90)">enzyme regulator activity</text>
<text class="cat" transform="translate(3329.6,40) rotate(-90)">nucleic acid binding</text>
<text class="cat" transform="translate(3387.5,40) rotate(-90)">hydrolase activity</text>
<text class="cat" transform="translate(3445.4,40) rotate(-90)">transferase activity</text>
<text class="cat" transform="translate(3503.3,40) rotate(-90)">lipid binding</text>
<text class="cat" transform="translate(3561.2,40) rotate(-90)">antioxidant activity</text>
<text class="cat" transform="translate(3619.1,40) rotate(-90)">nucleotide binding</text>
<text class="cat" transform="translate(3677,40) rotate(-90)">chromatin binding</text>
<text class="cat" transform="translate(3734.9,40) rotate(-90)">transporter activity</text>
<text class="cat" transform="translate(3792.8,40) rotate(-90)">molecular transducer activity</text>
<text class="cat" transform="translate(3850.7,40) rotate(-90)">oxygen binding</text>
<text class="cat" transform="translate(3908.6,40) rotate(-90)">electron transfer activity</text>
<text class="cat" transform="translate(3966.5,40) rotate(-90)">molecular adaptor activity</text>
<text class="cat" transform="translate(4024.4,40) rotate(-90)">structural molecule activity</text>
<text class="cat" transform="translate(4082.3,40) rotate(-90)">unclassified</text>
</g>
</svg>
